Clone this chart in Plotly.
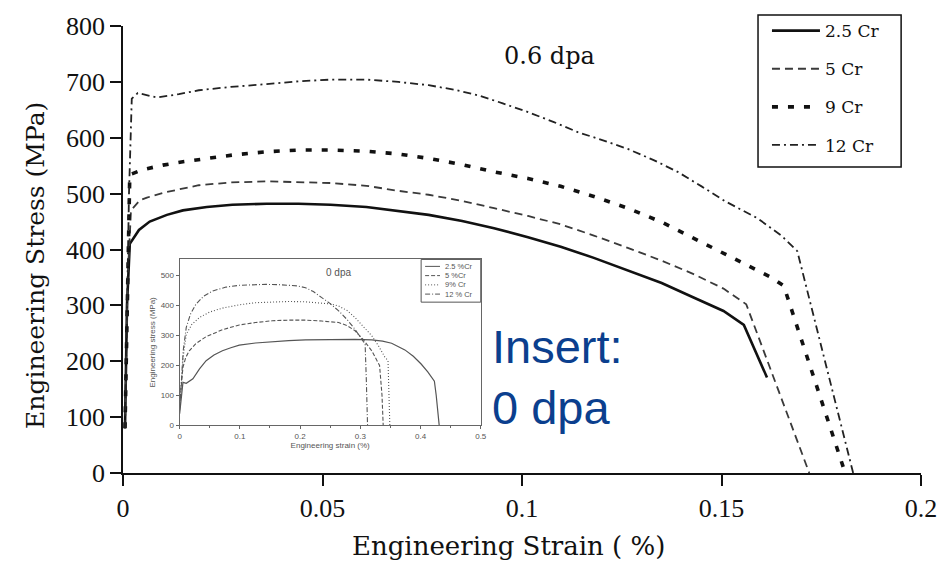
import plotly.graph_objects as go

# ---- 0.6 dpa tensile curves (strain, stress in MPa) ----
cr25_strain = [0.0005, 0.001, 0.0017, 0.004, 0.0067, 0.011, 0.015, 0.021, 0.0274, 0.036, 0.044, 0.052,
               0.061, 0.07, 0.0766, 0.085, 0.093, 0.1015, 0.1097, 0.118, 0.1265, 0.135, 0.143, 0.1505,
               0.1556, 0.1614]
cr25_stress = [80, 300, 410, 435, 450, 462, 470, 476, 480, 482, 482, 480, 476, 468, 462, 451, 438, 422,
               405, 385, 363, 340, 314, 290, 265, 171]

cr5_strain = [0.0005, 0.0012, 0.002, 0.0042, 0.006, 0.011, 0.019, 0.027, 0.036, 0.044, 0.052, 0.061,
              0.069, 0.0766, 0.085, 0.093, 0.1015, 0.1097, 0.118, 0.1265, 0.135, 0.143, 0.1505, 0.1562,
              0.172]
cr5_stress = [80, 350, 470, 488, 493, 503, 515, 520, 522, 521, 519, 514, 505, 498, 487, 474, 460, 445,
              425, 403, 380, 356, 330, 302, 0]

cr9_strain = [0.0005, 0.0012, 0.0017, 0.005, 0.01, 0.015, 0.021, 0.0274, 0.036, 0.044, 0.052, 0.061,
              0.069, 0.0766, 0.085, 0.093, 0.1015, 0.1097, 0.118, 0.1265, 0.135, 0.143, 0.1505, 0.158,
              0.1625, 0.1656, 0.181]
cr9_stress = [80, 400, 534, 543, 551, 557, 563, 569, 575, 578, 578, 576, 571, 563, 552, 539, 527, 513,
              495, 474, 449, 420, 394, 367, 350, 335, 0]

cr12_strain = [0.0005, 0.0015, 0.0022, 0.0037, 0.0085, 0.014, 0.019, 0.027, 0.036, 0.044, 0.052, 0.061,
               0.069, 0.0766, 0.083, 0.089, 0.095, 0.1015, 0.108, 0.114, 0.1205, 0.1265, 0.133, 0.139,
               0.145, 0.151, 0.159, 0.165, 0.169, 0.183]
cr12_stress = [80, 500, 670, 680, 672, 678, 685, 691, 696, 701, 704, 704, 700, 694, 686, 676, 662, 646,
               628, 610, 595, 580, 560, 539, 513, 486, 456, 425, 397, 0]

main_names = ["2.5 Cr", "5 Cr", "9 Cr", "12 Cr"]

# ---- 0 dpa (unirradiated) curves for the inset ----
in25_strain = [0, 0.003, 0.0055, 0.011, 0.016, 0.022, 0.033, 0.044, 0.057, 0.071, 0.085, 0.099, 0.126,
               0.154, 0.181, 0.209, 0.236, 0.264, 0.291, 0.319, 0.337, 0.352, 0.363, 0.374, 0.388,
               0.401, 0.412, 0.423, 0.426, 0.429, 0.431]
in25_stress = [39, 100, 143, 140, 146, 155, 188, 215, 234, 248, 258, 267, 274, 279, 282, 284, 285, 286,
               286, 284, 280, 273, 263, 251, 230, 204, 178, 147, 100, 40, 0]

in5_strain = [0, 0.003, 0.0055, 0.01, 0.016, 0.027, 0.044, 0.071, 0.099, 0.126, 0.154, 0.181, 0.209,
              0.236, 0.264, 0.278, 0.291, 0.305, 0.319, 0.332, 0.336, 0.338]
in5_stress = [72, 140, 193, 225, 248, 272, 295, 318, 334, 342, 348, 350, 350, 347, 342, 332, 315, 285,
              248, 199, 100, 0]

in9_strain = [0, 0.003, 0.006, 0.011, 0.02, 0.033, 0.05, 0.071, 0.099, 0.126, 0.154, 0.181, 0.209,
              0.236, 0.25, 0.264, 0.278, 0.291, 0.305, 0.319, 0.33, 0.341, 0.346, 0.348, 0.349]
in9_stress = [60, 138, 230, 303, 335, 359, 377, 390, 401, 408, 411, 412, 411, 408, 404, 397, 382, 359,
              330, 298, 265, 226, 215, 100, 0]

in12_strain = [0, 0.003, 0.006, 0.011, 0.018, 0.027, 0.04, 0.055, 0.077, 0.099, 0.121, 0.143, 0.165,
               0.181, 0.195, 0.209, 0.222, 0.236, 0.25, 0.264, 0.278, 0.291, 0.3, 0.308, 0.31, 0.312]
in12_stress = [50, 160, 250, 326, 370, 403, 430, 447, 460, 466, 468, 469, 468, 467, 464, 458, 445, 425,
               405, 381, 352, 320, 295, 270, 150, 0]

inset_names = ["2.5 %Cr", "5 %Cr", "9% Cr", "12 % Cr"]

main_ticks_x = [0, 0.05, 0.1, 0.15, 0.2]
main_ticklabels_x = ["0", "0.05", "0.1", "0.15", "0.2"]

SERIF = "Liberation Serif, Times New Roman, serif"
WIDE_SERIF = "DejaVu Serif, serif"
SANS = "Liberation Sans, Arial, sans-serif"

W, H = 949, 564
ML, MR, MT, MB = 123, 23, 23, 91
PW, PH = W - ML - MR, H - MT - MB


def px(xp):
    """page pixel x -> paper fraction"""
    return (xp - ML) / PW


def py(yp):
    """page pixel y -> paper fraction"""
    return (H - MB - yp) / PH


fig = go.Figure()

main_series = [
    (cr25_strain, cr25_stress, dict(color="#111111", width=2.6, dash="solid")),
    (cr5_strain, cr5_stress, dict(color="#3a3a3a", width=1.8, dash="8px,5px")),
    (cr9_strain, cr9_stress, dict(color="#111111", width=3.6, dash="6px,10px")),
    (cr12_strain, cr12_stress, dict(color="#222222", width=1.8, dash="8px,4px,2px,4px")),
]
for name, (sx, sy, ln) in zip(main_names, main_series):
    fig.add_trace(go.Scatter(x=sx, y=sy, mode="lines", name=name, line=ln,
                             legendgroup=name, xaxis="x", yaxis="y"))

inset_series = [
    (in25_strain, in25_stress, dict(color="#555555", width=1.2, dash="solid")),
    (in5_strain, in5_stress, dict(color="#555555", width=1.1, dash="4px,2px")),
    (in9_strain, in9_stress, dict(color="#555555", width=1.1, dash="1px,2px")),
    (in12_strain, in12_stress, dict(color="#555555", width=1.1, dash="5px,2px,1px,2px")),
]
for name, (sx, sy, ln) in zip(inset_names, inset_series):
    fig.add_trace(go.Scatter(x=sx, y=sy, mode="lines", name=name, line=ln,
                             showlegend=False, xaxis="x2", yaxis="y2"))

# Main legend frame (legend itself is drawn borderless inside it)
shapes = [dict(type="rect", xref="paper", yref="paper",
               x0=px(762), x1=px(906), y0=py(165), y1=py(12),
               line=dict(color="#111111", width=1.5), fillcolor="white", layer="below")]

# Compact key for the inset, drawn as small line samples with labels
annotations = []
shapes.append(dict(type="rect", xref="paper", yref="paper",
                   x0=px(423), x1=px(483), y0=py(301), y1=py(258),
                   line=dict(color="#555555", width=1), fillcolor="white", layer="below"))
row_y = [265, 274.3, 283.6, 292.9]
for (name, (_, _, ln)), ry in zip(zip(inset_names, inset_series), row_y):
    shapes.append(dict(type="line", xref="paper", yref="paper",
                       x0=px(427), x1=px(442), y0=py(ry), y1=py(ry),
                       line=dict(color=ln["color"], width=1, dash=ln["dash"])))
    annotations.append(dict(text=name, x=px(445), y=py(ry), xref="paper", yref="paper",
                            xanchor="left", yanchor="middle", showarrow=False,
                            font=dict(family=SANS, size=7.5, color="#555555")))

annotations += [
    # main axis titles
    dict(text="Engineering Strain ( %)", x=px(511), y=py(546), xref="paper", yref="paper",
         xanchor="center", yanchor="middle", showarrow=False,
         font=dict(family=WIDE_SERIF, size=26, color="#111111")),
    dict(text="Engineering Stress (MPa)", x=px(35), y=py(264), xref="paper", yref="paper",
         xanchor="center", yanchor="middle", textangle=-90, showarrow=False,
         font=dict(family=WIDE_SERIF, size=25, color="#111111")),
    dict(text="0.6 dpa", x=px(552), y=py(37), xref="paper", yref="paper", showarrow=False,
         font=dict(family=WIDE_SERIF, size=24, color="#111111")),
    dict(text="Insert:<br>0 dpa", x=px(492), y=py(376), xref="paper", yref="paper",
         xanchor="left", yanchor="middle", align="left", showarrow=False,
         font=dict(family=SANS, size=47, color="#0b3f8e")),
    dict(text="0 dpa", x=0.528, y=0.965, xref="x2 domain", yref="y2 domain", showarrow=False,
         font=dict(family=SANS, size=10, color="#555555")),
]

fig.update_layout(
    width=W, height=H,
    margin=dict(l=ML, r=MR, t=MT, b=MB),
    paper_bgcolor="white", plot_bgcolor="rgba(0,0,0,0)",
    font=dict(family=SERIF, color="#111111"),
    showlegend=True,
    xaxis=dict(
        range=[0, 0.2], tickvals=main_ticks_x, ticktext=main_ticklabels_x,
        showline=True, linecolor="#111111", linewidth=1.5,
        ticks="outside", ticklen=11, tickwidth=1.5, tickcolor="#111111",
        showgrid=False, zeroline=False,
        tickfont=dict(family=SERIF, size=26, color="#111111"),
    ),
    yaxis=dict(
        range=[0, 800], dtick=100,
        showline=True, linecolor="#111111", linewidth=1.5,
        ticks="outside", ticklen=11, tickwidth=1.5, tickcolor="#111111",
        showgrid=False, zeroline=False,
        tickfont=dict(family=SERIF, size=26, color="#111111"),
    ),
    xaxis2=dict(
        domain=[px(180), px(483)], anchor="y2", range=[0, 0.5], dtick=0.1,
        showline=True, mirror=True, linecolor="#666666", linewidth=1,
        ticks="outside", ticklen=3, tickcolor="#666666",
        minor=dict(dtick=0.05, ticks="outside", ticklen=2, tickcolor="#666666"),
        showgrid=False, zeroline=False,
        tickfont=dict(family=SANS, size=8, color="#555555"),
        title=dict(text="Engineering strain (%)", font=dict(family=SANS, size=8, color="#555555"),
                   standoff=2),
    ),
    yaxis2=dict(
        domain=[py(425), py(258)], anchor="x2", range=[0, 552], dtick=100,
        showline=True, mirror=True, linecolor="#666666", linewidth=1,
        ticks="outside", ticklen=3, tickcolor="#666666",
        showgrid=False, zeroline=False,
        tickfont=dict(family=SANS, size=8, color="#555555"),
        title=dict(text="Engineering stress (MPa)", font=dict(family=SANS, size=8, color="#555555"),
                   standoff=3),
    ),
    legend=dict(
        x=px(771), y=py(10), xanchor="left", yanchor="top",
        borderwidth=0, bgcolor="rgba(0,0,0,0)",
        font=dict(family=WIDE_SERIF, size=17, color="#111111"),
        tracegroupgap=13, itemwidth=48,
    ),
    shapes=shapes,
    annotations=annotations,
)

fig.write_html("out.html")
